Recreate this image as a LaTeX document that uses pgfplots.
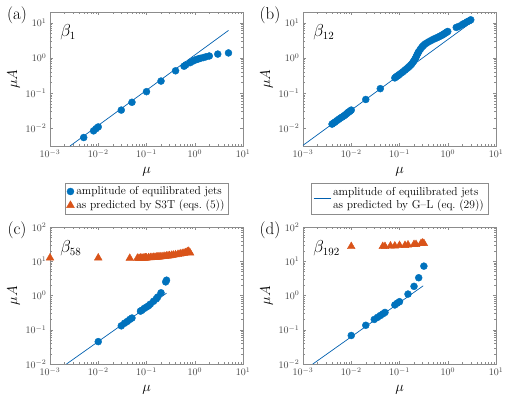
\documentclass[border=0pt]{standalone}
\usepackage{pgfplots}
\pgfplotsset{compat=1.18}
\definecolor{mblue}{RGB}{0,114,189}
\definecolor{morange}{RGB}{217,83,25}
\definecolor{mline}{RGB}{0,95,175}
\pgfplotsset{
  every axis/.append style={
    scale only axis, width=193pt,
    xmin=1e-3, xmax=10, clip=false,
    xtick={1e-3,1e-2,1e-1,1,10},
    axis line style={black!45}, every tick/.append style={black!45},
    tick align=inside, major tick length=3pt, minor tick length=1.6pt,
    ticklabel style={text=black!75, font=\fontsize{10}{12}\selectfont},
    label style={font=\fontsize{14}{16}\selectfont},
    xlabel={$\mu$}, ylabel={$\mu A$},
    xlabel style={yshift=-3pt},
    ylabel style={yshift=-1pt},
  },
}
\begin{document}
\begin{tikzpicture}
\path[use as bounding box] (0,0) rectangle (506pt,-397pt);
% (a)
\begin{loglogaxis}[at={(50pt,-12pt)}, anchor=north west, height=134pt,
  ymin=0.00316, ymax=20, ytick={1e-2,1e-1,1,10},
  legend style={at={(0.5,-0.276)}, anchor=north, draw=black!45,
    font=\fontsize{11.5}{13.5}\selectfont, inner sep=1.5pt},
  legend cell align=left]
\addplot[only marks, mark=*, mark size=3.5pt, color=mblue] coordinates {
(0.005,0.0055) (0.008,0.0085) (0.009,0.0098) (0.01,0.011) (0.03,0.033)
(0.05,0.055) (0.1,0.11) (0.2,0.22) (0.4,0.43) (0.6,0.58) (0.65,0.63)
(0.8,0.73) (0.9,0.8) (1.0,0.86) (1.1,0.9) (1.2,0.94) (1.3,0.97)
(1.5,1.02) (1.7,1.07) (2.0,1.13) (3.0,1.28) (5.0,1.38)};
\addlegendentry{amplitude of equilibrated jets}
\addlegendimage{only marks, mark=triangle*, mark size=4.5pt, color=morange}
\addlegendentry{as predicted by S3T (eqs.~(5))}
\addplot[mline, line width=0.7pt, no marks, forget plot] coordinates {(0.0026,0.00316) (5,6.0)};
\node[anchor=north west, font=\fontsize{16}{18}\selectfont] at (rel axis cs:0.035,0.93) {$\beta_{1}$};
\end{loglogaxis}
% (b)
\begin{loglogaxis}[at={(303pt,-12pt)}, anchor=north west, height=134pt,
  ymin=0.00316, ymax=20, ytick={1e-2,1e-1,1,10},
  legend style={at={(0.5,-0.276)}, anchor=north, draw=black!45,
    font=\fontsize{11.5}{13.5}\selectfont, inner sep=2pt,
    cells={align=left}},
  legend cell align=left]
\addplot[only marks, mark=*, mark size=3.5pt, color=mblue, forget plot] coordinates {
(0.004,0.0132) (0.0043,0.0142) (0.0046,0.015) (0.005,0.0165) (0.0055,0.018)
(0.006,0.0197) (0.0065,0.021) (0.007,0.0225) (0.0075,0.024) (0.008,0.026)
(0.0085,0.028) (0.009,0.0295) (0.0095,0.031) (0.01,0.033) (0.02,0.066)
(0.04,0.134) (0.08,0.27) (0.085,0.29) (0.09,0.305) (0.095,0.32) (0.1,0.34)
(0.11,0.375) (0.12,0.41) (0.13,0.45) (0.14,0.49) (0.15,0.53) (0.16,0.57)
(0.17,0.62) (0.18,0.68) (0.19,0.75) (0.2,0.83) (0.21,0.93) (0.22,1.05)
(0.23,1.2) (0.24,1.35) (0.25,1.5) (0.27,1.75) (0.29,2.0) (0.31,2.2)
(0.33,2.4) (0.36,2.6) (0.4,2.85) (0.45,3.1) (0.5,3.35) (0.55,3.55)
(0.6,3.75) (0.65,3.95) (0.7,4.15) (0.75,4.35) (0.8,4.6) (0.85,4.85)
(0.9,5.1) (0.95,5.35) (1.0,5.6) (1.5,7.3) (1.7,7.8) (2.0,8.8) (2.2,9.5)
(2.5,10.5) (2.8,11.3) (3.0,12.0)};
\addplot[mline, line width=0.7pt, no marks] coordinates {(0.001,0.0033) (3,9.9)};
\addlegendentry{amplitude of equilibrated jets\\as predicted by G--L (eq.~(29))}
\node[anchor=north west, font=\fontsize{16}{18}\selectfont] at (rel axis cs:0.035,0.93) {$\beta_{12}$};
\end{loglogaxis}
% (c)
\begin{loglogaxis}[at={(50pt,-227pt)}, anchor=north west, height=137pt,
  ymin=1e-2, ymax=1e2, ytick={1e-2,1e-1,1,10,100}]
\addplot[only marks, mark=triangle*, mark size=4.5pt, color=morange] coordinates {
(0.001,12.5) (0.01,12.5) (0.045,12.2)
(0.065,12.3) (0.07,12.2) (0.075,12.4) (0.08,12.3) (0.085,12.5) (0.09,12.4)
(0.095,12.6) (0.1,12.5) (0.11,12.7) (0.12,12.8) (0.13,12.9) (0.14,13.0)
(0.15,13.1) (0.16,13.2) (0.17,13.3) (0.18,13.4) (0.19,13.5) (0.2,13.6)
(0.22,13.8) (0.24,14.0) (0.26,14.2) (0.28,14.4) (0.3,14.6) (0.33,14.9)
(0.36,15.2) (0.4,15.5) (0.45,16.0) (0.5,16.5) (0.55,16.8) (0.6,17.3)
(0.65,17.8) (0.7,19.0) (0.75,19.5) (0.8,17.5)};
\addplot[mline, line width=0.7pt, no marks] coordinates {(0.0022,0.01) (0.26,1.17)};
\addplot[only marks, mark=*, mark size=3.5pt, color=mblue] coordinates {
(0.01,0.045) (0.03,0.13) (0.035,0.155) (0.04,0.175) (0.045,0.2) (0.05,0.22)
(0.075,0.35) (0.08,0.37) (0.09,0.42) (0.1,0.46) (0.11,0.5) (0.12,0.56)
(0.14,0.68) (0.16,0.8) (0.17,0.9) (0.2,1.2) (0.25,2.5) (0.26,2.8)};
\node[anchor=north west, font=\fontsize{16}{18}\selectfont] at (rel axis cs:0.035,0.925) {$\beta_{58}$};
\end{loglogaxis}
% (d)
\begin{loglogaxis}[at={(303pt,-227pt)}, anchor=north west, height=137pt,
  ymin=1e-2, ymax=1e2, ytick={1e-2,1e-1,1,10,100}]
\addplot[only marks, mark=triangle*, mark size=4.5pt, color=morange] coordinates {
(0.01,27) (0.045,27) (0.05,27) (0.065,28) (0.08,28) (0.1,29) (0.13,29)
(0.15,30) (0.2,31) (0.22,31) (0.28,33) (0.3,34) (0.32,33)};
\addplot[mline, line width=0.7pt, no marks] coordinates {(0.0016,0.01) (0.31,1.92)};
\addplot[only marks, mark=*, mark size=3.5pt, color=mblue] coordinates {
(0.01,0.068) (0.02,0.135) (0.03,0.2) (0.035,0.23) (0.04,0.26) (0.045,0.29)
(0.05,0.32) (0.08,0.53) (0.09,0.6) (0.1,0.66) (0.15,1.1) (0.2,1.85)
(0.25,3.3) (0.32,7.2)};
\node[anchor=north west, font=\fontsize{16}{18}\selectfont] at (rel axis cs:0.035,0.925) {$\beta_{192}$};
\end{loglogaxis}
\node[font=\fontsize{17}{20}\selectfont] at (17pt,-15pt) {(a)};
\node[font=\fontsize{17}{20}\selectfont] at (270pt,-15pt) {(b)};
\node[font=\fontsize{17}{20}\selectfont] at (17pt,-230pt) {(c)};
\node[font=\fontsize{17}{20}\selectfont] at (270pt,-230pt) {(d)};
\end{tikzpicture}
\end{document}
